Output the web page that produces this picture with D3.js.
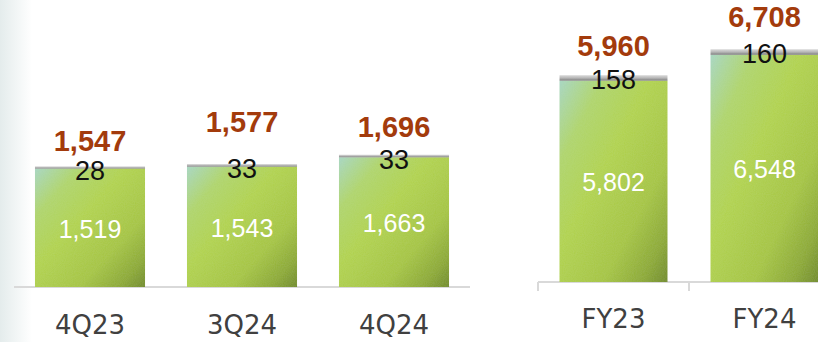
<!DOCTYPE html>
<html>
<head>
<meta charset="utf-8">
<script src="https://cdn.jsdelivr.net/npm/d3@7"></script>
<style>
  html, body { margin: 0; padding: 0; background: #fff; }
  svg { display: block; }
</style>
</head>
<body>
<svg id="chart" width="818" height="342"></svg>
<script>
// ---- Data ----
const quarterCategories = ["4Q23", "3Q24", "4Q24"];
const quarterMain = [1519, 1543, 1663];
const quarterTop = [28, 33, 33];
const quarterTotal = [1547, 1577, 1696];

const yearCategories = ["FY23", "FY24"];
const yearMain = [5802, 6548];
const yearTop = [158, 160];
const yearTotal = [5960, 6708];

// label lift above bar top (layout only)
const quarterTotalLift = [15, 32, 18];
const yearTotalLift = [19, 22];

const fmt = d3.format(",");
const svg = d3.select("#chart");
const defs = svg.append("defs");

// left edge background fade
const bgGrad = defs.append("linearGradient").attr("id", "bgfade").attr("x1", 0).attr("x2", 1).attr("y1", 0).attr("y2", 0);
bgGrad.append("stop").attr("offset", 0).attr("stop-color", "#e4ecec");
bgGrad.append("stop").attr("offset", 1).attr("stop-color", "#ffffff");
svg.append("rect").attr("x", 0).attr("y", 0).attr("width", 32).attr("height", 342).attr("fill", "url(#bgfade)");

// green bar gradient
const gGrad = defs.append("linearGradient").attr("id", "green").attr("x1", 0).attr("y1", 0).attr("x2", 1).attr("y2", 1);
[[0, "#a6d6c2"], [0.2, "#aed46c"], [0.42, "#b0d24c"], [0.7, "#a4c43f"], [0.88, "#8aa82e"], [1, "#6e8a20"]].forEach(([o, c]) =>
  gGrad.append("stop").attr("offset", o).attr("stop-color", c));

// gray cap gradient
const cGrad = defs.append("linearGradient").attr("id", "cap").attr("x1", 0).attr("y1", 0).attr("x2", 0).attr("y2", 1);
[[0, "#dadada"], [0.5, "#b8b8b8"], [1, "#7c7c7c"]].forEach(([o, c]) =>
  cGrad.append("stop").attr("offset", o).attr("stop-color", c));

// subtle noise texture
const filt = defs.append("filter").attr("id", "noise").attr("x", 0).attr("y", 0).attr("width", 1).attr("height", 1);
filt.append("feTurbulence").attr("type", "fractalNoise").attr("baseFrequency", 0.9).attr("numOctaves", 1).attr("result", "n");
filt.append("feColorMatrix").attr("in", "n").attr("type", "matrix")
  .attr("values", "0 0 0 0 1  0 0 0 0 1  0 0 0 0 0.8  0 0 0 0.07 0").attr("result", "nc");
filt.append("feComposite").attr("in", "nc").attr("in2", "SourceGraphic").attr("operator", "in").attr("result", "nm");
filt.append("feMerge").call(m => { m.append("feMergeNode").attr("in", "SourceGraphic"); m.append("feMergeNode").attr("in", "nm"); });

function panel(opts) {
  const { cats, main, top, total, lift, xRange, yZero, yMax, yMaxPx, ticks, catBaseline } = opts;
  const x = d3.scaleBand().domain(cats).range(xRange).paddingInner(opts.pad).paddingOuter(opts.pad / 2);
  const y = d3.scaleLinear().domain([0, yMax]).range([yZero, yMaxPx]);

  const g = svg.append("g");

  // axis baseline
  const axis = d3.axisBottom(x).tickSize(0).tickFormat("");
  const ag = g.append("g").attr("transform", `translate(0,${yZero})`).call(axis);
  ag.select(".domain").attr("stroke", "#d9d9d9").attr("stroke-width", 2)
    .attr("d", `M${xRange[0]},0H${xRange[1]}`);
  ag.selectAll(".tick").remove();
  if (ticks) {
    const bounds = [xRange[0]].concat(cats.map(c => x(c) + x.bandwidth() + x.step() * x.paddingInner() / 2));
    ag.selectAll("line.sep").data(bounds).join("line").attr("class", "sep")
      .attr("x1", d => d).attr("x2", d => d).attr("y1", 0).attr("y2", 9)
      .attr("stroke", "#d9d9d9").attr("stroke-width", 2);
  }

  const idx = d3.range(cats.length);
  // main segments
  g.selectAll("rect.main").data(idx).join("rect").attr("class", "main")
    .attr("x", i => x(cats[i])).attr("width", x.bandwidth())
    .attr("y", i => y(main[i])).attr("height", i => y(0) - y(main[i]))
    .attr("fill", "url(#green)").attr("filter", "url(#noise)");
  // top segments
  g.selectAll("rect.top").data(idx).join("rect").attr("class", "top")
    .attr("x", i => x(cats[i])).attr("width", x.bandwidth())
    .attr("y", i => y(main[i] + top[i])).attr("height", i => y(main[i]) - y(main[i] + top[i]))
    .attr("fill", "url(#cap)");

  // main labels (white)
  g.selectAll("text.ml").data(idx).join("text").attr("class", "ml")
    .attr("x", i => x(cats[i]) + x.bandwidth() / 2)
    .attr("y", i => (y(0) + y(main[i])) / 2 + 10)
    .attr("text-anchor", "middle").attr("fill", "#ffffff")
    .style("font-family", "'Liberation Sans', Arial, sans-serif").style("font-size", "25px")
    .text(i => fmt(main[i]));
  // top labels (black)
  g.selectAll("text.tl").data(idx).join("text").attr("class", "tl")
    .attr("x", i => x(cats[i]) + x.bandwidth() / 2)
    .attr("y", i => y(main[i] + top[i]) + 14)
    .attr("text-anchor", "middle").attr("fill", "#111111")
    .style("font-family", "'Liberation Sans', Arial, sans-serif").style("font-size", "27px")
    .text(i => fmt(top[i]));
  // totals
  g.selectAll("text.tot").data(idx).join("text").attr("class", "tot")
    .attr("x", i => x(cats[i]) + x.bandwidth() / 2)
    .attr("y", i => y(total[i]) - lift[i])
    .attr("text-anchor", "middle").attr("fill", "#a33b0c")
    .style("font-family", "'Liberation Sans', Arial, sans-serif").style("font-size", "29px").style("font-weight", "bold")
    .text(i => fmt(total[i]));
  // category labels
  g.selectAll("text.cat").data(idx).join("text").attr("class", "cat")
    .attr("x", i => x(cats[i]) + x.bandwidth() / 2)
    .attr("y", catBaseline)
    .attr("text-anchor", "middle").attr("fill", "#404040")
    .style("font-family", "'DejaVu Sans', sans-serif").style("font-size", "26px")
    .text(i => cats[i]);
}

panel({
  cats: quarterCategories, main: quarterMain, top: quarterTop, total: quarterTotal, lift: quarterTotalLift,
  xRange: [14, 470], pad: 0.276, yZero: 287, yMax: 2000, yMaxPx: 131, ticks: false, catBaseline: 334
});
panel({
  cats: yearCategories, main: yearMain, top: yearTop, total: yearTotal, lift: yearTotalLift,
  xRange: [538, 840], pad: 0.285, yZero: 282, yMax: 8000, yMaxPx: 4.4, ticks: true, catBaseline: 328
});
</script>
</body>
</html>
